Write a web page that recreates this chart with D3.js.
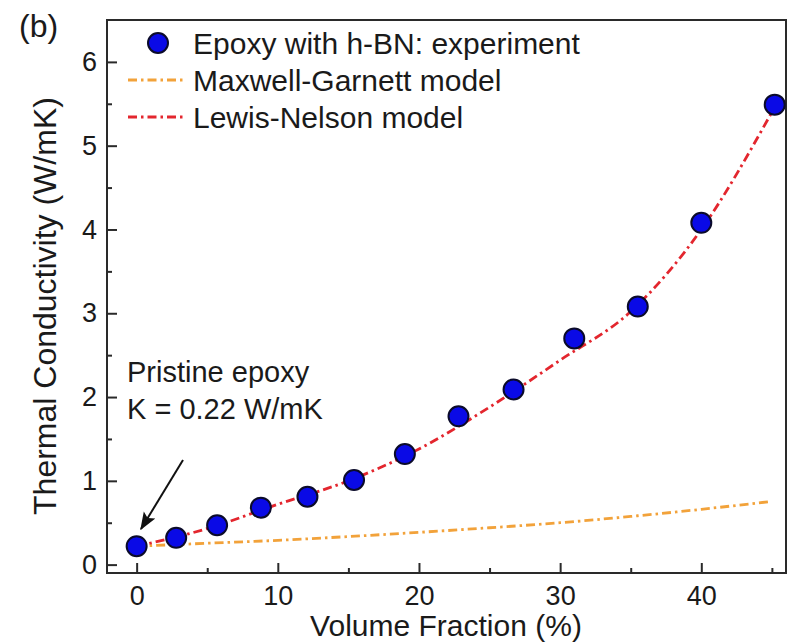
<!DOCTYPE html>
<html>
<head>
<meta charset="utf-8">
<script src="https://cdn.jsdelivr.net/npm/d3@7"></script>
<style>
	body { margin: 0; background: #fff; }
	text { font-family: "Liberation Sans", Arial, sans-serif; fill: #1a1a1a; }
</style>
</head>
<body>
<script>
let fraction = [0, 2.8, 5.7, 8.8, 12.1, 15.4, 19.0, 22.8, 26.7, 31.0, 35.5, 40.0, 45.2];
let conductivity = [0.22, 0.32, 0.47, 0.68, 0.81, 1.01, 1.32, 1.77, 2.09, 2.70, 3.08, 4.08, 5.49];

//model curves, sampled from the figure
let modelFraction = [0, 5, 10, 15, 20, 25, 30, 35, 40, 45];
let maxwellGarnett = [0.22, 0.255, 0.29, 0.335, 0.385, 0.44, 0.50, 0.575, 0.66, 0.755];
let lewisNelson = [0.22, 0.43, 0.72, 1.0, 1.38, 1.88, 2.44, 3.02, 4.0, 5.4];

let xTicks = [0, 10, 20, 30, 40];
let yTicks = [0, 1, 2, 3, 4, 5, 6];
let legendLabels = ["Epoxy with h-BN: experiment", "Maxwell-Garnett model", "Lewis-Nelson model"];

let svg = d3.select("body").append("svg")
	.attr("width", 788)
	.attr("height", 643);

let margin = { top: 20, right: 2, bottom: 70, left: 107 };
let width = 788, height = 643;

let scaleX = d3.scaleLinear()
	.domain([-2.1, 46])
	.range([margin.left, width - margin.right]);

let scaleY = d3.scaleLinear()
	.domain([-0.1, 6.5])
	.range([height - margin.bottom, margin.top]);

let orange = "#f2a23a";
let red = "#e3262e";
let dash = "9,4,2.5,4";

//frame
svg.append("rect")
	.attr("x", margin.left)
	.attr("y", margin.top)
	.attr("width", width - margin.left - margin.right)
	.attr("height", height - margin.top - margin.bottom)
	.attr("fill", "none")
	.attr("stroke", "#2a2a2a")
	.attr("stroke-width", 2);

//ticks point inward
let xAxis = d3.axisBottom(scaleX).tickValues(xTicks).tickSize(-10).tickPadding(13);
let xMinor = d3.axisBottom(scaleX).tickValues(d3.range(5, 46, 10)).tickSize(-5).tickFormat("");
let yAxis = d3.axisLeft(scaleY).tickValues(yTicks).tickSize(-10).tickPadding(10).tickFormat(d3.format("d"));
let yMinor = d3.axisLeft(scaleY).tickValues(d3.range(0.5, 6.1, 1)).tickSize(-5).tickFormat("");

function styleAxis(g) {
	g.select(".domain").remove();
	g.selectAll("line").attr("stroke", "#2a2a2a").attr("stroke-width", 2);
	g.selectAll("text").attr("font-size", 27).attr("font-family", "Liberation Sans, Arial, sans-serif").attr("fill", "#1a1a1a");
}

svg.append("g").attr("transform", `translate(0, ${height - margin.bottom})`).call(xAxis).call(styleAxis);
svg.append("g").attr("transform", `translate(0, ${height - margin.bottom})`).call(xMinor).call(styleAxis);
svg.append("g").attr("transform", `translate(${margin.left}, 0)`).call(yAxis).call(styleAxis);
svg.append("g").attr("transform", `translate(${margin.left}, 0)`).call(yMinor).call(styleAxis);

//axis titles
svg.append("text")
	.attr("x", 446)
	.attr("y", 636)
	.attr("text-anchor", "middle")
	.attr("font-size", 30)
	.text("Volume Fraction (%)");

svg.append("text")
	.attr("transform", "translate(56, 306) rotate(-90)")
	.attr("text-anchor", "middle")
	.attr("font-size", 32)
	.text("Thermal Conductivity (W/mK)");

svg.append("text")
	.attr("x", 19)
	.attr("y", 37)
	.attr("font-size", 32)
	.text("(b)");

//model curves
let line = d3.line()
	.x(d => scaleX(d[0]))
	.y(d => scaleY(d[1]))
	.curve(d3.curveMonotoneX);

svg.append("path")
	.datum(modelFraction.map((f, i) => [f, maxwellGarnett[i]]))
	.attr("d", line)
	.attr("fill", "none")
	.attr("stroke", orange)
	.attr("stroke-width", 2.8)
	.attr("stroke-dasharray", dash);

svg.append("path")
	.datum(modelFraction.map((f, i) => [f, lewisNelson[i]]))
	.attr("d", line)
	.attr("fill", "none")
	.attr("stroke", red)
	.attr("stroke-width", 2.8)
	.attr("stroke-dasharray", dash);

//experiment points
svg.selectAll("circle.pt")
	.data(fraction.map((f, i) => [f, conductivity[i]]))
	.enter().append("circle")
	.attr("class", "pt")
	.attr("cx", d => scaleX(d[0]))
	.attr("cy", d => scaleY(d[1]))
	.attr("r", 10)
	.attr("fill", "#0a0ae6")
	.attr("stroke", "#0b0b2a")
	.attr("stroke-width", 2);

//legend
let legend = svg.append("g");
legend.append("circle")
	.attr("cx", 158).attr("cy", 43).attr("r", 10)
	.attr("fill", "#0a0ae6").attr("stroke", "#0b0b2a").attr("stroke-width", 2);
legend.append("line")
	.attr("x1", 128).attr("x2", 184).attr("y1", 80).attr("y2", 80)
	.attr("stroke", orange).attr("stroke-width", 2.8).attr("stroke-dasharray", dash);
legend.append("line")
	.attr("x1", 128).attr("x2", 184).attr("y1", 117).attr("y2", 117)
	.attr("stroke", red).attr("stroke-width", 2.8).attr("stroke-dasharray", dash);
legend.selectAll("text")
	.data(legendLabels)
	.enter().append("text")
	.attr("x", 193)
	.attr("y", (d, i) => [43, 80, 117][i])
	.attr("dy", "0.36em")
	.attr("font-size", 30)
	.text(d => d);

//annotation with arrow
svg.append("defs").append("marker")
	.attr("id", "arrow")
	.attr("viewBox", "0 0 12 10")
	.attr("refX", 11).attr("refY", 5)
	.attr("markerWidth", 9).attr("markerHeight", 8)
	.attr("orient", "auto")
	.append("path")
	.attr("d", "M0,0.5 L12,5 L0,9.5 L2.5,5 Z")
	.attr("fill", "#111");

svg.append("line")
	.attr("x1", 183).attr("y1", 460)
	.attr("x2", 141).attr("y2", 529)
	.attr("stroke", "#111")
	.attr("stroke-width", 2)
	.attr("marker-end", "url(#arrow)");

svg.append("text")
	.attr("x", 127).attr("y", 382)
	.attr("font-size", 29)
	.text("Pristine epoxy");

svg.append("text")
	.attr("x", 127).attr("y", 419)
	.attr("font-size", 29)
	.text("K = 0.22 W/mK");
</script>
</body>
</html>
